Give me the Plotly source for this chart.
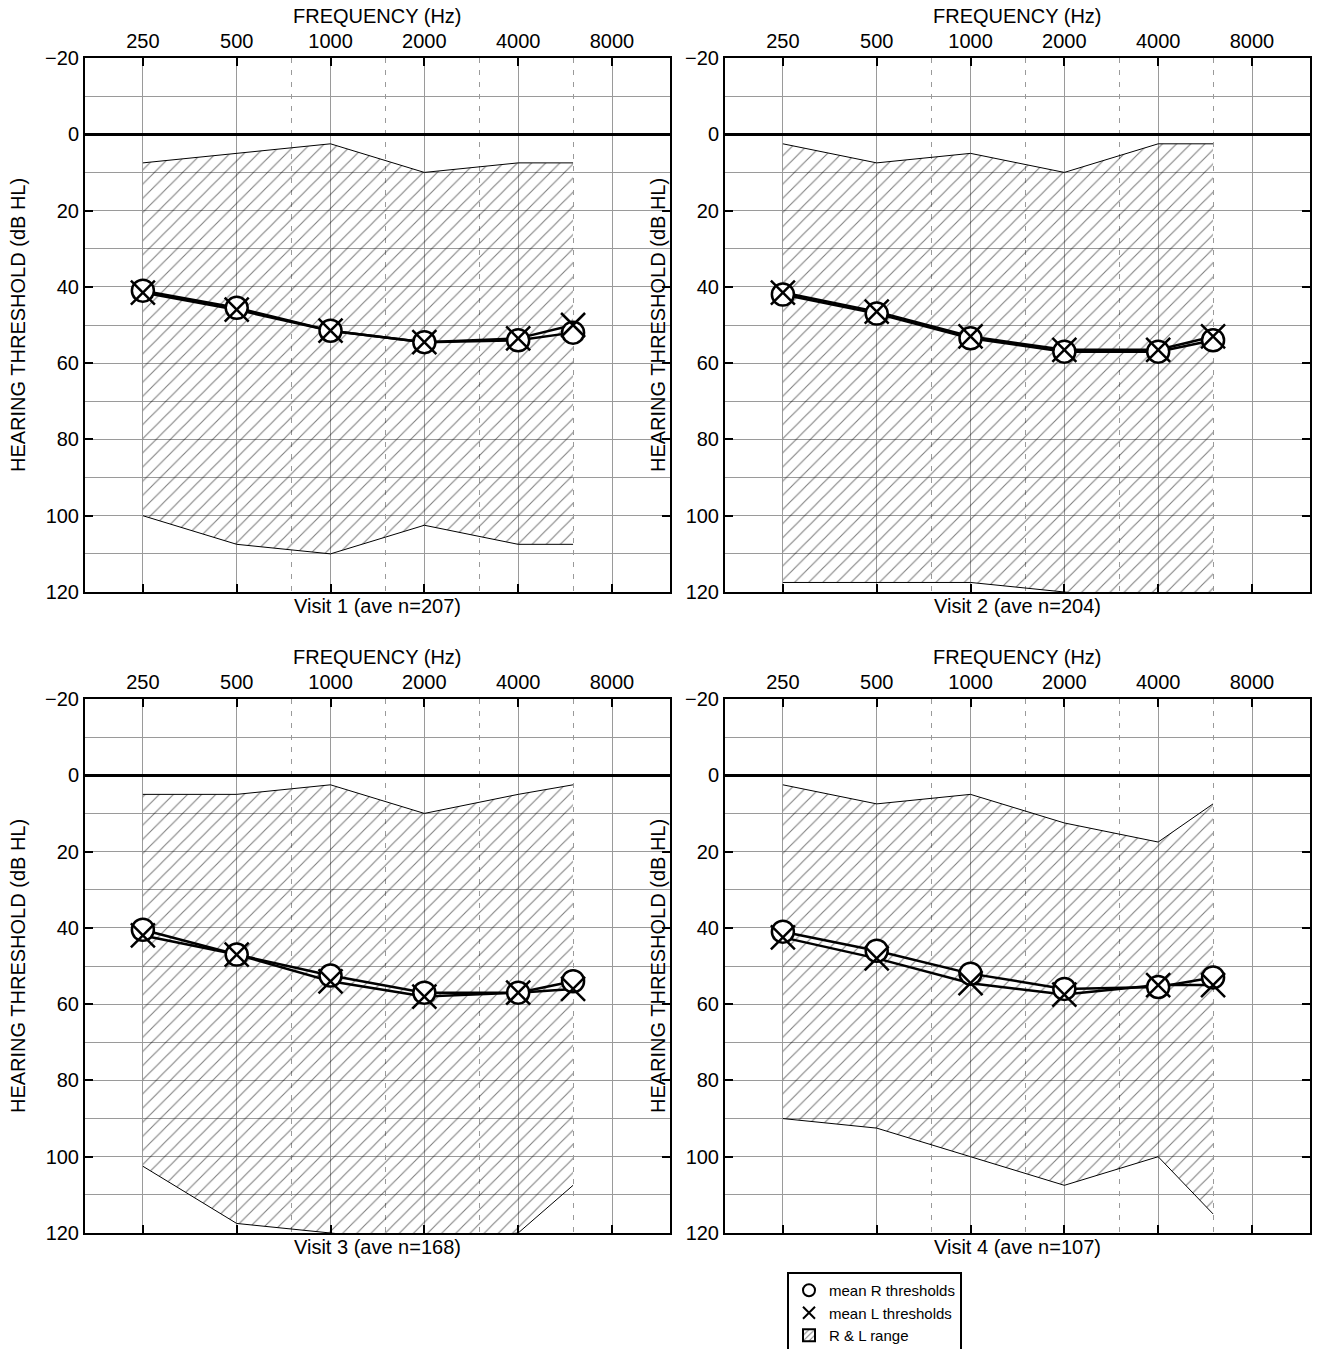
import math
import plotly.graph_objects as go

# ---------------- data ----------------
freqs = [250, 500, 1000, 2000, 4000, 6000]
octave_ticks = [250, 500, 1000, 2000, 4000, 8000]
half_octave_lines = [750, 1500, 3000, 6000]
y_ticks = [-20, 0, 20, 40, 60, 80, 100, 120]

visit_labels = ["Visit 1 (ave n=207)", "Visit 2 (ave n=204)",
                "Visit 3 (ave n=168)", "Visit 4 (ave n=107)"]

v1_range_top = [7.5, 5, 2.5, 10, 7.5, 7.5]
v1_range_bottom = [100, 107.5, 110, 102.5, 107.5, 107.5]
v1_mean_r = [41, 45.5, 51.5, 54.5, 54, 52]
v1_mean_l = [41.5, 46, 51.5, 54.5, 53.5, 50]

v2_range_top = [2.5, 7.5, 5, 10, 2.5, 2.5]
v2_range_bottom = [117.5, 117.5, 117.5, 120, 122.5, 122.5]
v2_mean_r = [42, 47, 53.5, 57, 57, 54]
v2_mean_l = [41.5, 46.5, 53, 56.5, 56.5, 53]

v3_range_top = [5, 5, 2.5, 10, 5, 2.5]
v3_range_bottom = [102.5, 117.5, 120, 122.5, 120, 107.5]
v3_mean_r = [40.5, 47, 52.5, 57, 57, 54]
v3_mean_l = [42, 47, 54, 58, 57, 56]

v4_range_top = [2.5, 7.5, 5, 12.5, 17.5, 7.5]
v4_range_bottom = [90, 92.5, 100, 107.5, 100, 115]
v4_mean_r = [41, 46, 52, 56, 55.5, 53]
v4_mean_l = [42.5, 48, 54.5, 57.5, 55, 55]

panels = [
    (v1_range_top, v1_range_bottom, v1_mean_r, v1_mean_l),
    (v2_range_top, v2_range_bottom, v2_mean_r, v2_mean_l),
    (v3_range_top, v3_range_bottom, v3_mean_r, v3_mean_l),
    (v4_range_top, v4_range_bottom, v4_mean_r, v4_mean_l),
]

# ---------------- layout geometry ----------------
W, H = 1319, 1349
FONT = "Liberation Sans, Arial, sans-serif"
x_domains = [(85, 670), (725, 1310)]   # pixels
y_domains = [(58, 592), (699, 1233)]


def px_x(v):
    return v / W


def px_y(v):
    return 1 - v / H


fig = go.Figure()
annotations = []
layout_axes = {}
grid_col = "#9a9a9a"
hatch = dict(shape="/", fgcolor="black", bgcolor="rgba(0,0,0,0)",
             size=10, solidity=0.11)

for i, (rtop, rbot, mr, ml) in enumerate(panels):
    col = i % 2
    row = i // 2
    n = i + 1
    xa = "x" if n == 1 else f"x{n}"
    ya = "y" if n == 1 else f"y{n}"
    first = (i == 0)

    # range (hatched)
    fig.add_trace(go.Scatter(
        x=freqs, y=rbot, xaxis=xa, yaxis=ya, mode="lines",
        line=dict(color="black", width=1), showlegend=False, hoverinfo="skip"))
    fig.add_trace(go.Scatter(
        x=freqs, y=rtop, xaxis=xa, yaxis=ya, mode="lines",
        line=dict(color="black", width=1), fill="tonexty",
        fillcolor="rgba(0,0,0,0)", fillpattern=hatch,
        name="R & L range", showlegend=False))

    # mean lines
    for vals in (mr, ml):
        fig.add_trace(go.Scatter(
            x=freqs, y=vals, xaxis=xa, yaxis=ya, mode="lines",
            line=dict(color="black", width=2.5), showlegend=False, hoverinfo="skip"))

    # markers
    fig.add_trace(go.Scatter(
        x=freqs, y=mr, xaxis=xa, yaxis=ya, mode="markers",
        marker=dict(symbol="circle", size=22, color="white",
                    line=dict(color="black", width=2.5)),
        name="mean R thresholds", legendrank=1, showlegend=first))
    fig.add_trace(go.Scatter(
        x=freqs, y=ml, xaxis=xa, yaxis=ya, mode="markers",
        marker=dict(symbol="x-thin", size=24, color="black",
                    line=dict(color="black", width=2.5)),
        name="mean L thresholds", legendrank=2, showlegend=first))

    x0, x1 = x_domains[col]
    yt, yb = y_domains[row]
    xkey = "xaxis" if n == 1 else f"xaxis{n}"
    ykey = "yaxis" if n == 1 else f"yaxis{n}"
    layout_axes[xkey] = dict(
        domain=[px_x(x0), px_x(x1)], anchor=ya, type="log",
        range=[math.log10(163), math.log10(12280)], autorange=False,
        side="top", tickmode="array", tickvals=octave_ticks,
        ticktext=[str(v) for v in octave_ticks],
        ticks="inside", ticklen=8, tickwidth=2, tickcolor="black",
        showline=True, linewidth=2, linecolor="black", mirror="ticks",
        showgrid=True, gridcolor=grid_col, gridwidth=1,
        minor=dict(tickmode="array", tickvals=half_octave_lines, ticks="",
                   showgrid=True, gridcolor=grid_col, gridwidth=1,
                   griddash="5px,7px"),
        tickfont=dict(family=FONT, size=20, color="black"),
        zeroline=False, fixedrange=True, automargin=False,
    )
    layout_axes[ykey] = dict(
        domain=[px_y(yb), px_y(yt)], anchor=xa,
        range=[120, -20], autorange=False,
        tickmode="array", tickvals=y_ticks,
        ticks="inside", ticklen=8, tickwidth=2, tickcolor="black",
        showline=True, linewidth=2, linecolor="black", mirror="ticks",
        showgrid=True, gridcolor=grid_col, gridwidth=1,
        minor=dict(tick0=-20, dtick=10, ticks="", showgrid=True,
                   gridcolor=grid_col, gridwidth=1),
        zeroline=True, zerolinecolor="black", zerolinewidth=3,
        tickfont=dict(family=FONT, size=20, color="black"),
        fixedrange=True, automargin=False,
    )

    # titles
    cx = (x0 + x1) / 2
    annotations.append(dict(
        text="FREQUENCY (Hz)", x=px_x(cx), y=px_y(yt - 42),
        xref="paper", yref="paper", showarrow=False,
        xanchor="center", yanchor="middle",
        font=dict(family=FONT, size=20, color="black")))
    annotations.append(dict(
        text=visit_labels[i], x=px_x(cx), y=px_y(yb + 14), xref="paper", yref="paper",
        showarrow=False, xanchor="center", yanchor="middle",
        font=dict(family=FONT, size=20, color="black")))
    annotations.append(dict(
        text="HEARING THRESHOLD (dB HL)", textangle=-90,
        x=px_x(18 if col == 0 else 658), y=px_y((yt + yb) / 2),
        xref="paper", yref="paper", showarrow=False,
        xanchor="center", yanchor="middle",
        font=dict(family=FONT, size=20, color="black")))

# legend-only swatch for the hatched range
fig.add_trace(go.Bar(
    x=[None], y=[None], xaxis="x", yaxis="y", name="R & L range",
    marker=dict(color="white", line=dict(color="black", width=1.5),
                pattern=dict(shape="/", fgcolor="black", bgcolor="white",
                             size=5, solidity=0.25)),
    legendrank=3, showlegend=True, hoverinfo="skip"))

fig.update_layout(
    width=W, height=H,
    margin=dict(l=0, r=0, t=0, b=0, autoexpand=False),
    paper_bgcolor="white", plot_bgcolor="white",
    annotations=annotations,
    font=dict(family=FONT, color="black"),
    legend=dict(x=px_x(787), y=px_y(1272), xanchor="left", yanchor="top",
                bordercolor="black", borderwidth=2, bgcolor="white",
                font=dict(family=FONT, size=15, color="black"),
                itemsizing="constant", traceorder="normal",
                tracegroupgap=0, entrywidth=180, entrywidthmode="pixels"),
    **layout_axes,
)

fig.write_html("out.html",
               config={"displayModeBar": False, "staticPlot": True},
               post_script="document.body.style.margin='0px';document.body.style.padding='0px';")
